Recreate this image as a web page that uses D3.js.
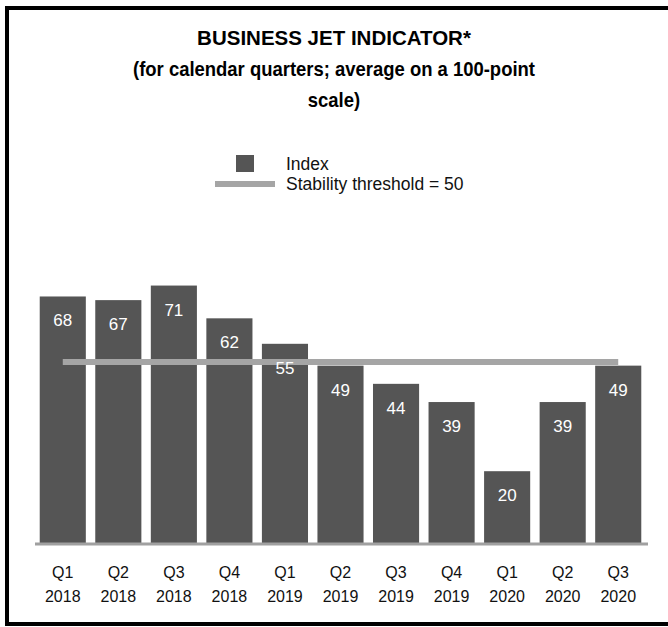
<!DOCTYPE html>
<html>
<head>
<meta charset="utf-8">
<script src="https://cdn.jsdelivr.net/npm/d3@7"></script>
<style>
  body { margin: 0; background: #fff; overflow: hidden; }
  svg { display: block; font-family: "Liberation Sans", Arial, sans-serif; }
</style>
</head>
<body>
<div id="canvas"></div>
<script>
// DATA
const quarters = ["Q1", "Q2", "Q3", "Q4", "Q1", "Q2", "Q3", "Q4", "Q1", "Q2", "Q3"];
const years = ["2018", "2018", "2018", "2018", "2019", "2019", "2019", "2019", "2020", "2020", "2020"];
const indexValues = [68, 67, 71, 62, 55, 49, 44, 39, 20, 39, 49];
const threshold = 50;
const titleLines = ["BUSINESS JET INDICATOR*", "(for calendar quarters; average on a 100-point", "scale)"];
const legendLabels = ["Index", "Stability threshold = 50"];

function drawGraph() {
  // DIMENSIONS
  const width = 668;
  const height = 627;

  const svg = d3.select('#canvas')
    .append('svg')
    .attr('width', width)
    .attr('height', height);

  // FRAME
  svg.append('rect')
    .attr('x', 7).attr('y', 8)
    .attr('width', 670).attr('height', 616)
    .attr('fill', 'none')
    .attr('stroke', '#000')
    .attr('stroke-width', 4);

  // TITLE (the original face is a little narrower in lower case)
  svg.append('g').selectAll('text').data(titleLines).enter()
    .append('text')
    .attr('x', 334)
    .attr('y', (d, i) => 45 + i * 31)
    .attr('text-anchor', 'middle')
    .style('font-size', '20.5px')
    .style('font-weight', 'bold')
    .style('fill', '#000')
    .text(d => d)
    .each(function (d, i) {
      if (i > 0) {
        const w = this.getComputedTextLength();
        d3.select(this)
          .attr('textLength', w * 0.9)
          .attr('lengthAdjust', 'spacingAndGlyphs');
      }
    });

  // SCALES
  const keys = indexValues.map((d, i) => i);
  const x = d3.scaleBand(keys, [35, 646]).paddingInner(0.17).paddingOuter(0.085);
  const y = d3.scaleLinear().domain([0, 100]).range([544, 180]);

  // BARS
  const plot = svg.append('g');
  plot.selectAll('rect.bar').data(indexValues).enter()
    .append('rect')
    .attr('class', 'bar')
    .attr('x', (d, i) => x(i))
    .attr('y', d => y(d))
    .attr('width', x.bandwidth())
    .attr('height', d => y(0) - y(d))
    .style('fill', '#555555');

  // THRESHOLD LINE
  plot.append('line')
    .attr('x1', x(0) + x.bandwidth() / 2)
    .attr('x2', x(keys.length - 1) + x.bandwidth() / 2)
    .attr('y1', y(threshold)).attr('y2', y(threshold))
    .attr('stroke', '#a5a5a5')
    .attr('stroke-width', 6);

  // LABELS
  plot.selectAll('text.val').data(indexValues).enter()
    .append('text')
    .attr('class', 'val')
    .attr('x', (d, i) => x(i) + x.bandwidth() / 2)
    .attr('y', d => y(d) + 30)
    .attr('text-anchor', 'middle')
    .style('font-size', '17px')
    .style('fill', '#fff')
    .text(d => d);

  // AXIS
  const xAx = d3.axisBottom(x).tickSize(0).tickFormat(i => quarters[i]);
  const xaxis = svg.append('g')
    .attr('transform', `translate(0, ${y(0)})`)
    .call(xAx.tickSizeOuter(0));
  xaxis.select('.domain')
    .attr('d', 'M35,0H648')
    .attr('stroke', '#a0a0a0')
    .attr('stroke-width', 3);
  xaxis.selectAll('.tick text')
    .attr('y', 0).attr('dy', null)
    .style('font-size', '16px')
    .style('font-family', '"Liberation Sans", Arial, sans-serif')
    .style('fill', '#111')
    .text(null)
    .each(function (i) {
      const t = d3.select(this);
      t.append('tspan').attr('x', 0).attr('y', 34).text(quarters[i]);
      t.append('tspan').attr('x', 0).attr('y', 58).text(years[i]);
    });

  // LEGEND
  const legend = svg.append('g');
  legend.append('rect')
    .attr('x', 236).attr('y', 155)
    .attr('width', 18).attr('height', 17)
    .style('fill', '#555555');
  legend.append('line')
    .attr('x1', 215).attr('x2', 275)
    .attr('y1', 184).attr('y2', 184)
    .attr('stroke', '#a5a5a5')
    .attr('stroke-width', 6);
  legend.selectAll('text').data(legendLabels).enter()
    .append('text')
    .attr('x', 286)
    .attr('y', (d, i) => 170 + i * 20)
    .style('font-size', '17.5px')
    .style('fill', '#111')
    .text(d => d);
}

drawGraph();
</script>
</body>
</html>
